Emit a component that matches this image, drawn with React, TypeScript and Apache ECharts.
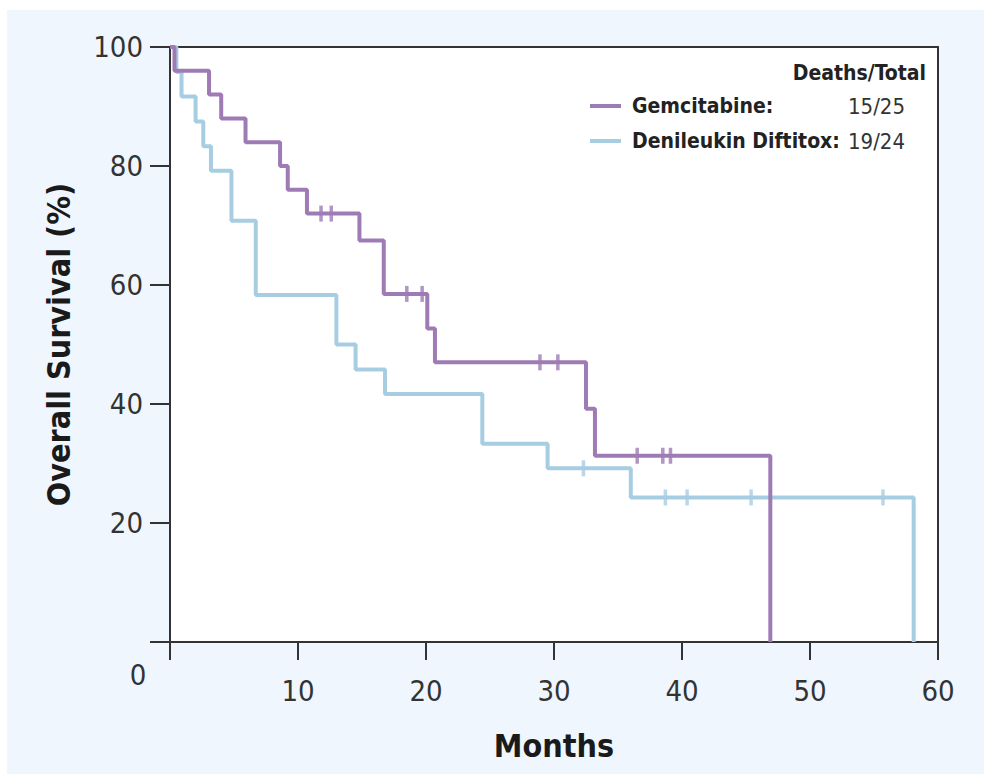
import React, { useEffect, useRef } from "react";
import * as echarts from "echarts";

const seriesNames = ["Gemcitabine", "Denileukin Diftitox"];
const deathsTotal = ["15/25", "19/24"];

// Kaplan-Meier steps: [months, survival %]
const gemcitabineSteps = [
  [0, 100], [0.35, 96], [3.05, 92], [4.0, 88], [5.9, 84], [8.6, 80], [9.2, 76],
  [10.7, 72], [14.8, 67.5], [16.7, 58.5], [20.1, 52.7], [20.7, 47],
  [32.5, 39.2], [33.2, 31.3], [46.9, 0],
];
const denileukinSteps = [
  [0, 100], [0.5, 95.8], [0.9, 91.7], [2.0, 87.5], [2.6, 83.3], [3.2, 79.2],
  [4.8, 70.8], [6.7, 58.3], [13.0, 50], [14.5, 45.8], [16.8, 41.7],
  [24.4, 33.3], [29.5, 29.2], [36.0, 24.3], [58.1, 0],
];
// censored observations
const gemcitabineCensored = [
  [11.8, 72], [12.6, 72], [18.5, 58.5], [19.7, 58.5], [28.9, 47], [30.3, 47],
  [36.5, 31.3], [38.5, 31.3], [39.1, 31.3],
];
const denileukinCensored = [
  [32.3, 29.2], [38.7, 24.3], [40.4, 24.3], [45.4, 24.3], [55.7, 24.3],
];

const xTicks = { min: 0, max: 60, interval: 10 };
const yTicks = { min: 0, max: 100, interval: 20 };

const PURPLE = "#9f7bb5";
const BLUE = "#a7cde3";
const AXIS = "#333333";
const FONT = "'DejaVu Sans Condensed', 'Liberation Sans Narrow', sans-serif";

export default function App() {
  const ref = useRef<HTMLDivElement>(null);
  useEffect(() => {
    document.body.style.margin = "0";
    const chart = echarts.init(ref.current!, null, { renderer: "svg" });
    const legendValues: Record<string, string> = {
      [seriesNames[0]]: deathsTotal[0],
      [seriesNames[1]]: deathsTotal[1],
    };
    chart.setOption({
      animation: false,
      backgroundColor: "#ffffff",
      graphic: [
        {
          type: "rect",
          z: -10,
          silent: true,
          shape: { x: 7, y: 10, width: 984, height: 774 },
          style: { fill: "#f0f6fd" },
        },
        {
          type: "text",
          x: 138,
          y: 675,
          style: {
            text: "0",
            font: `29px ${FONT}`,
            fill: AXIS,
            align: "center",
            verticalAlign: "middle",
          },
        },
        {
          type: "text",
          x: 926,
          y: 73,
          style: {
            text: "Deaths/Total",
            font: `bold 21px ${FONT}`,
            fill: "#222",
            align: "right",
            verticalAlign: "middle",
          },
        },
      ],
      grid: {
        left: 170,
        right: 46,
        top: 47,
        bottom: 132,
        show: true,
        backgroundColor: "#ffffff",
        borderColor: AXIS,
        borderWidth: 2,
      },
      legend: {
        data: seriesNames,
        orient: "vertical",
        left: 590,
        top: 95,
        padding: 0,
        itemGap: 13,
        itemWidth: 31,
        itemHeight: 4,
        icon: "rect",
        selectedMode: false,
        formatter: (name: string) => `{n|${name}:}{v|${legendValues[name]}}`,
        textStyle: {
          fontFamily: FONT,
          rich: {
            n: { fontFamily: FONT, fontSize: 21, lineHeight: 26, fontWeight: "bold", color: "#222", width: 207, padding: [0, 0, 0, 6] },
            v: { fontFamily: FONT, fontSize: 22, lineHeight: 26, color: "#333", width: 66, align: "right" },
          },
        },
      },
      xAxis: {
        type: "value",
        min: xTicks.min,
        max: xTicks.max,
        interval: xTicks.interval,
        splitLine: { show: false },
        axisLine: { show: true, lineStyle: { color: AXIS, width: 2 } },
        axisTick: { show: true, length: 18, lineStyle: { color: AXIS, width: 2 } },
        axisLabel: {
          margin: 34,
          fontFamily: FONT,
          fontSize: 29,
          color: AXIS,
          formatter: (v: number) => (v === 0 ? "" : String(v)),
        },
        name: "Months",
        nameLocation: "middle",
        nameGap: 88,
        nameTextStyle: { fontFamily: FONT, fontSize: 32, fontWeight: "bold", color: "#1a1a1a" },
      },
      yAxis: {
        type: "value",
        min: yTicks.min,
        max: yTicks.max,
        interval: yTicks.interval,
        splitLine: { show: false },
        axisLine: { show: true, lineStyle: { color: AXIS, width: 2 } },
        axisTick: { show: true, length: 20, lineStyle: { color: AXIS, width: 2 } },
        axisLabel: {
          margin: 27,
          fontFamily: FONT,
          fontSize: 29,
          color: AXIS,
          formatter: (v: number) => (v === 0 ? "" : String(v)),
        },
        name: "Overall Survival (%)",
        nameLocation: "middle",
        nameGap: 95,
        nameTextStyle: { fontFamily: FONT, fontSize: 32, fontWeight: "bold", color: "#1a1a1a" },
      },
      series: [
        {
          name: seriesNames[1],
          type: "line",
          step: "end",
          data: denileukinSteps,
          showSymbol: false,
          color: BLUE,
          lineStyle: { color: BLUE, width: 4 },
          z: 2,
        },
        {
          name: seriesNames[1] + " censored",
          type: "scatter",
          data: denileukinCensored,
          symbol: "rect",
          symbolSize: [3.5, 16],
          itemStyle: { color: BLUE },
          z: 3,
        },
        {
          name: seriesNames[0],
          type: "line",
          step: "end",
          data: gemcitabineSteps,
          showSymbol: false,
          color: PURPLE,
          lineStyle: { color: PURPLE, width: 4 },
          z: 4,
        },
        {
          name: seriesNames[0] + " censored",
          type: "scatter",
          data: gemcitabineCensored,
          symbol: "rect",
          symbolSize: [3.5, 16],
          itemStyle: { color: PURPLE },
          z: 5,
        },
      ],
    });
    return () => chart.dispose();
  }, []);
  return <div ref={ref} style={{ width: 984, height: 774 }} />;
}
